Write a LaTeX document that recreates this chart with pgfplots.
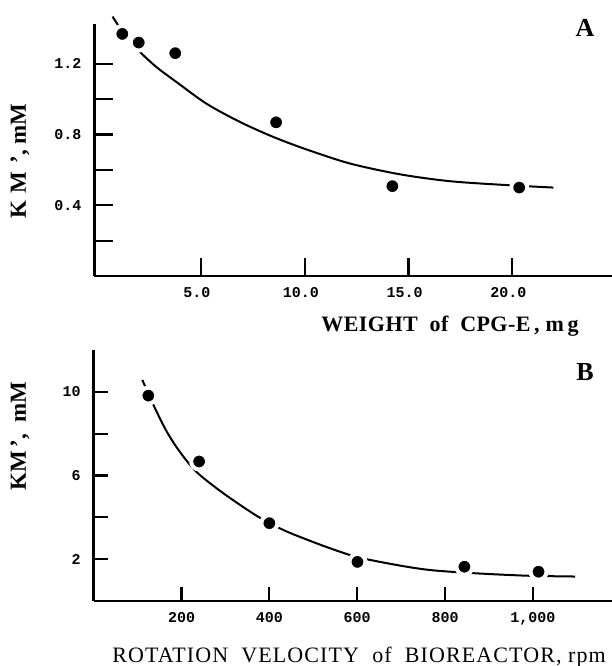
\documentclass[border=0pt]{standalone}
\usepackage{pgfplots}
\pgfplotsset{compat=1.18}
\usepackage{fontspec}
\setmainfont{Liberation Serif}
\newfontfamily\tickfont{Liberation Mono}

% 1 px of the reference = 0.5pt
\pgfplotsset{
  kmstyle/.style={
    scale only axis, clip=false,
    axis lines=left, axis line style={-, line width=1.2pt},
    tick style={line width=1.1pt, black}, tick align=inside,
    major tick length=9pt,
    tick label style={font=\tickfont\bfseries\fontsize{7.5}{8}\selectfont},
    /pgf/number format/assume math mode=true,
    xlabel style={anchor=center},
    ylabel style={font=\bfseries\fontsize{11.5}{12}\selectfont, anchor=center, rotate=0},
  },
  fit/.style={black, line width=1pt, smooth, no marks},
  dots/.style={only marks, mark=*, mark size=4pt,
    mark options={fill=black, draw=white, line width=2pt}},
}

\begin{document}
\begin{tikzpicture}
\path[use as bounding box] (0,0) rectangle (306pt,333pt);

% ---------- panel A ----------
\begin{axis}[kmstyle,
    at={(47.25pt,195pt)}, anchor=south west,
    width=258.75pt, height=126pt,
    xmin=-0.13, xmax=24.8, ymin=0, ymax=1.425,
    xtick={5,10,15,20}, xticklabels={5.0,10.0,15.0,20.0},
    ytick={0.2,0.4,0.6,0.8,1.0,1.2}, yticklabels={,0.4,,0.8,,1.2},
    xticklabel style={yshift=-2pt, xshift=-2pt}, yticklabel style={xshift=-3pt},
    xlabel={WEIGHT\ \ of\ \ CPG-E\,,\ m\,g},
    xlabel style={font=\bfseries\fontsize{11}{12}\selectfont\addfontfeature{LetterSpace=2},
      at={(axis description cs:0.687,-0.198)}},
    ylabel={K\,\,M\,\,',\ mM},
    ylabel style={at={(axis description cs:-0.144,0.456)}},
  ]
  \addplot[fit] coordinates {
    (0.74,1.467) (1.21,1.385) (2.03,1.271) (2.86,1.181) (3.83,1.096)
    (5.27,0.974) (6.88,0.871) (8.49,0.786) (10.10,0.715) (12.18,0.636)
    (14.59,0.575) (17.0,0.536) (19.74,0.514) (21.98,0.50)};
  \addplot[dots] coordinates {
    (1.21,1.369) (2.0,1.32) (3.76,1.26) (8.62,0.869) (14.22,0.508) (20.33,0.50)};
  \node[font=\bfseries\fontsize{13}{14}\selectfont] at (axis description cs:0.948,0.984) {A};
\end{axis}

% ---------- panel B ----------
\begin{axis}[kmstyle,
    at={(46.85pt,32.5pt)}, anchor=south west,
    width=259.15pt, height=125.5pt,
    xmin=0, xmax=1180, ymin=0, ymax=12,
    xtick={200,400,600,800,1000}, xticklabels={200,400,600,800,{1,000}},
    ytick={2,4,6,8,10}, yticklabels={2,,6,,10},
    major tick length=7pt,
    xticklabel style={yshift=-2pt}, yticklabel style={xshift=-3pt},
    xlabel={ROTATION\ \ VELOCITY\ \ of\ \ BIOREACTOR,\ rpm},
    xlabel style={font=\fontsize{11}{12}\selectfont\addfontfeature{LetterSpace=5},
      at={(axis description cs:0.512,-0.222)}},
    ylabel={KM\,',\ \ mM},
    ylabel style={at={(axis description cs:-0.142,0.657)}},
  ]
  \addplot[fit] coordinates {
    (110.7,10.57) (135.8,9.38) (166.3,8.10) (196.6,7.12) (234.6,6.16)
    (295.2,5.15) (371.3,4.07) (428.2,3.43) (477.4,3.0) (538.3,2.52)
    (600,2.10) (690.2,1.72) (766,1.48) (864.7,1.33) (986,1.21) (1096,1.17)};
  \addplot[dots] coordinates {
    (124.4,9.82) (240,6.67) (400,3.72) (600.5,1.87) (844,1.64) (1012.8,1.40)};
  \node[font=\bfseries\fontsize{13}{14}\selectfont] at (axis description cs:0.948,0.913) {B};
\end{axis}
\end{tikzpicture}
\end{document}
